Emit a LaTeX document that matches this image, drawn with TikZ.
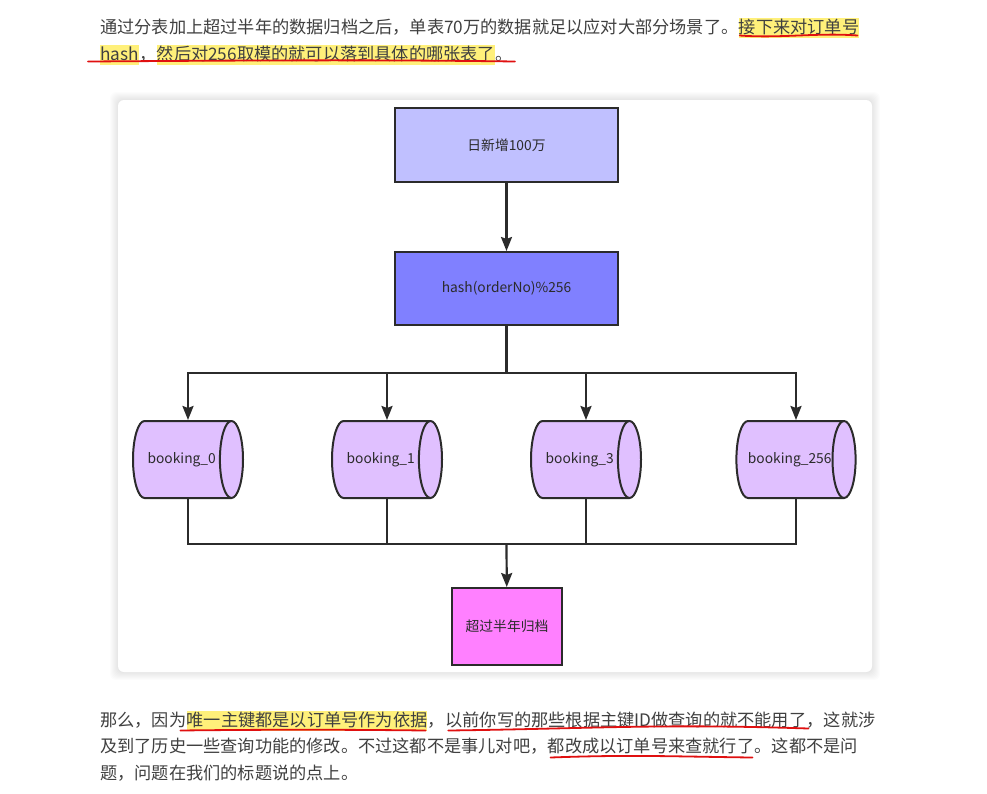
\documentclass[tikz,border=0pt]{standalone}
\usepackage{fontspec}
\setmainfont{Noto Sans CJK SC}
\usepackage{xcolor}
\usepackage{tikz}
\usetikzlibrary{shapes.geometric, arrows.meta, positioning, calc}
\definecolor{ink}{HTML}{2B2B2B}
\definecolor{daily}{HTML}{C0C0FF}
\definecolor{hashc}{HTML}{8080FF}
\definecolor{table}{HTML}{E0C0FF}
\definecolor{archive}{HTML}{FF80FF}
\definecolor{marker}{HTML}{FFF07A}
\definecolor{pen}{HTML}{E01010}

\begin{document}
\begin{tikzpicture}[
    x=1pt, y=-1pt,
    para/.style={anchor=base west, inner xsep=0pt, inner ysep=1.5pt, text=ink!90,
                 font=\fontsize{17.2}{20}\selectfont, text height=14pt, text depth=3pt},
    hl/.style={para, fill=marker},
    pencil/.style={draw=pen, line width=1.8pt, line cap=round},
    box/.style={draw=ink, line width=2pt, minimum width=223pt, minimum height=74pt,
                font=\fontsize{13.8}{16}\selectfont, text=ink},
    tbl/.style={cylinder, draw=ink, line width=2pt, shape aspect=1.6, anchor=shape center,
                cylinder uses custom fill, cylinder body fill=table, cylinder end fill=table,
                minimum height=110pt, minimum width=77pt, inner sep=0pt,
                font=\fontsize{13.8}{16}\selectfont, text=ink},
    arrow/.style={-{Stealth[length=14pt, width=11pt, inset=2pt]}, line width=2.2pt, draw=ink},
    link/.style={line width=2.2pt, draw=ink},
]
    \useasboundingbox (0,0) rectangle (987,793);
    \fill[white] (0,0) rectangle (987,793);

    % text above
    \node[para] (t1a) at (100,33.5) {通过分表加上超过半年的数据归档之后，单表70万的数据就足以应对大部分场景了。};
    \node[hl] (t1b) at (t1a.base east) {接下来对订单号};
    \node[hl] (t2a) at (100,60.5) {hash};
    \node[para] (t2b) at (t2a.base east) {，};
    \node[hl] (t2c) at (t2b.base east) {然后对256取模的就可以落到具体的哪张表了};
    \node[para] (t2d) at (t2c.base east) {。};
    \draw[pencil] ([xshift=1pt,yshift=-2pt]t1b.base west) .. controls +(40,3) and +(-40,-3) .. ([xshift=-2pt,yshift=-2pt]t1b.base east);
    \draw[pencil] ([xshift=-12pt,yshift=-1pt]t2a.base west) .. controls +(150,-1) and +(-150,-2) .. ([xshift=2pt,yshift=-1pt]t2d.base east);

    % card
    \foreach \s in {1,...,8}
        \fill[black, opacity=0.013, rounded corners=6pt] (118-\s,100-\s) rectangle (872+\s,672+\s);
    \fill[white, rounded corners=6pt] (118,100) rectangle (872,672);

    \node[box, fill=daily] (daily) at (506.5,145) {日新增100万};
    \node[box, fill=hashc, minimum height=73pt] (hash) at (506.5,288.5) {hash(orderNo)\%256};

    \node[tbl] (b0) at (188,459.5) {booking\_0\hspace{26pt}};
    \node[tbl] (b1) at (387,459.5) {booking\_1\hspace{26pt}};
    \node[tbl] (b3) at (586,459.5) {booking\_3\hspace{26pt}};
    \node[tbl] (b256) at (796,459.5) {booking\_256\hspace{12pt}};

    \node[box, fill=archive, minimum width=110pt, minimum height=77pt] (arch) at (507,626.5) {超过半年归档};

    \coordinate (split) at (506.5,373);
    \coordinate (merge) at (506.5,544);

    \draw[arrow] (daily) -- (hash);
    \draw[link] (hash) -- (split);
    \foreach \t in {b0,b1,b3,b256}
        \draw[arrow] (split) -| (\t.shape center |- \t.north);
    \foreach \t in {b0,b1,b3,b256}
        \draw[link] (\t.shape center |- \t.south) |- (merge);
    \draw[arrow] (merge) -- (arch);

    % text below
    \node[para] (b1a) at (100,726.5) {那么，因为};
    \node[hl] (b1b) at (b1a.base east) {唯一主键都是以订单号作为依据};
    \node[para] (b1c) at (b1b.base east) {，};
    \node[para] (b1d) at (b1c.base east) {以前你写的那些根据主键ID做查询的就不能用了};
    \node[para] (b1e) at (b1d.base east) {，这就涉};
    \node[para] (b2a) at (100,752.5) {及到了历史一些查询功能的修改。不过这都不是事儿对吧，};
    \node[para] (b2b) at (b2a.base east) {都改成以订单号来查就行了};
    \node[para] (b2c) at (b2b.base east) {。这都不是问};
    \node[para] (b3a) at (100,779.5) {题，问题在我们的标题说的点上。};
    \draw[pencil] ([xshift=-6pt,yshift=-4pt]b1b.base west) .. controls +(80,-1) and +(-80,-1) .. ([xshift=-2pt,yshift=-4pt]b1b.base east);
    \draw[pencil] ([xshift=3pt,yshift=-4pt]b1d.base west) .. controls +(150,-2) and +(-150,-5) .. ([xshift=2pt,yshift=-2pt]b1d.base east);
    \draw[pencil] ([xshift=3pt,yshift=-5pt]b2b.base west) .. controls +(80,-3) and +(-80,-1) .. ([xshift=-2pt,yshift=-5pt]b2b.base east);
\end{tikzpicture}
\end{document}
